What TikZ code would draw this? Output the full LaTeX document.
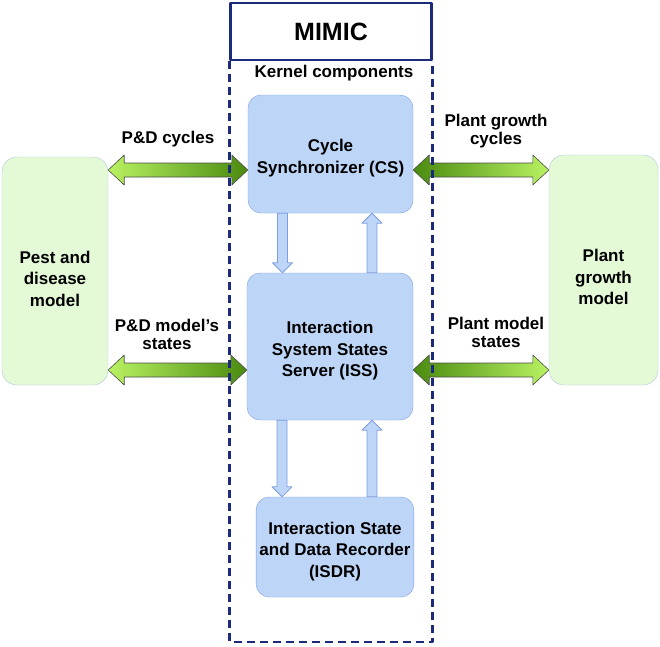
\documentclass[tikz,border=0pt]{standalone}
\usepackage{fontspec}
\setmainfont{Liberation Sans}
\usetikzlibrary{calc}

\definecolor{compfill}{HTML}{BDD6F7}
\definecolor{compline}{HTML}{7F9DE3}
\definecolor{modelfill}{HTML}{E4FAD6}
\definecolor{modelline}{HTML}{B4C6DC}
\definecolor{navy}{HTML}{1B2A7A}
\definecolor{lightgreen}{HTML}{B9F262}
\definecolor{darkgreen}{HTML}{4A8A0E}

% horizontal double arrow between two points
\newcommand{\dblarrow}[3][]{%
  \path[greenarrow,#1] let \p1=(#2), \p2=(#3) in
    (\x1,\y1) -- (\x1+16pt,\y1+15pt) -- (\x1+16pt,\y1+7pt) -- (\x2-16pt,\y1+7pt)
    -- (\x2-16pt,\y1+15pt) -- (\x2,\y1) -- (\x2-16pt,\y1-15pt) -- (\x2-16pt,\y1-7pt)
    -- (\x1+16pt,\y1-7pt) -- (\x1+16pt,\y1-15pt) -- cycle;}
% vertical block arrow, tip at the second point
\newcommand{\blkarrow}[2]{%
  \path[bluearrow] let \p1=(#1), \p2=(#2), \n1={sign(\y2-\y1)} in
    (\x1-5pt,\y1) -- (\x1-5pt,\y2-\n1*10pt) -- (\x1-10pt,\y2-\n1*10pt) -- (\x1,\y2)
    -- (\x1+10pt,\y2-\n1*10pt) -- (\x1+5pt,\y2-\n1*10pt) -- (\x1+5pt,\y1) -- cycle;}

\tikzset{
  comp/.style={draw=compline, fill=compfill, rounded corners=13pt, align=center,
    font=\fontsize{17}{21.5}\selectfont\bfseries},
  model/.style={draw=modelline, fill=modelfill, rounded corners=15pt, align=center,
    font=\fontsize{17}{21.5}\selectfont\bfseries},
  lbl/.style={align=center, font=\fontsize{17}{18}\selectfont\bfseries},
  greenarrow/.style={draw=black!70, line width=0.6pt},
  bluearrow/.style={draw=compline, fill=compfill, line width=0.8pt},
  kernel/.style={draw=navy, line width=2.6pt, dash pattern=on 8pt off 5pt}
}

\begin{document}
\begin{tikzpicture}[x=1pt,y=-1pt,line join=round]
	\useasboundingbox (0,0) rectangle (660,646);
	% MIMIC
	\node[draw=navy, line width=2.4pt, fill=white, minimum width=201, minimum height=57,
	  font=\fontsize{25}{30}\selectfont\bfseries] (mimic) at (331,31.5) {MIMIC};
	\node[lbl] (kern) at (334,73) {Kernel components};
	\coordinate (kbot) at (331,642);
	% kernel components
	\node[comp, minimum width=165, minimum height=118] (cs) at (330.5,154) {\rule{0pt}{21pt}Cycle\\Synchronizer (CS)};
	\node[comp, minimum width=166, minimum height=147] (iss) at (330,346.5) {\rule{0pt}{21pt}Interaction\\System States\\Server (ISS)};
	\node[comp, minimum width=154, minimum height=100] (isdr) at (335,547) {\rule{0pt}{21pt}Interaction State\\and Data Recorder\\(ISDR)};
	% models
	\node[model, minimum width=106, minimum height=228] (pd) at (55,271) {\rule{0pt}{28pt}Pest and\\disease\\model};
	\node[model, minimum width=109, minimum height=230] (plant) at (603.5,270) {\rule{0pt}{27pt}Plant\\growth\\model};
	% block arrows
	\blkarrow{[xshift=-48pt]cs.south}{[xshift=-48pt]iss.north}
	\blkarrow{[xshift=42pt]iss.north}{[xshift=42pt]cs.south}
	\blkarrow{[xshift=-48pt]iss.south}{[xshift=-48pt]iss.south |- isdr.north}
	\blkarrow{[xshift=42pt]iss.south |- isdr.north}{[xshift=42pt]iss.south}
	% cycles and states
	\dblarrow[left color=lightgreen, right color=darkgreen]{[yshift=101pt]pd.east}{[yshift=101pt]pd.east -| cs.west}
	\dblarrow[left color=lightgreen, right color=darkgreen]{[yshift=-99pt]pd.east}{[yshift=-99pt]pd.east -| iss.west}
	\dblarrow[left color=darkgreen, right color=lightgreen]{[yshift=100pt]plant.west -| cs.east}{[yshift=100pt]plant.west}
	\dblarrow[left color=darkgreen, right color=lightgreen]{[yshift=-100pt]plant.west -| iss.east}{[yshift=-100pt]plant.west}
	\node[lbl] (pdc) at (168,139) {P\&D cycles};
	\node[lbl] (pgc) at (496,131) {Plant growth\\cycles};
	\node[lbl] (pds) at (167,334) {P\&D model’s\\states};
	\node[lbl] (pms) at (496,332) {Plant model\\states};
	% frame
	\draw[kernel] (mimic.south west) |- (kbot) -| (mimic.south east);
\end{tikzpicture}
\end{document}
